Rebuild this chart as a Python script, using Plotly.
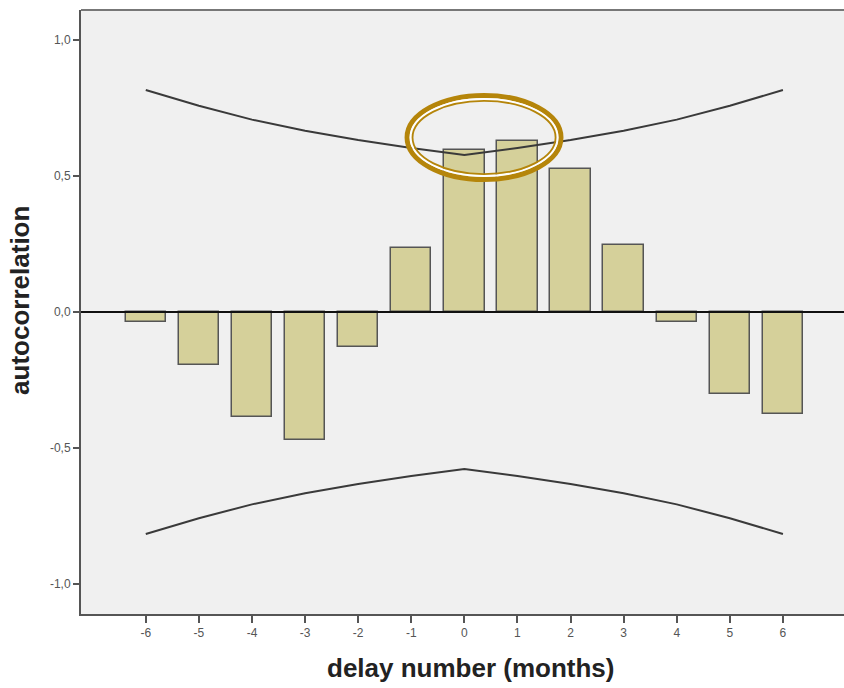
import plotly.graph_objects as go

lags = [-6, -5, -4, -3, -2, -1, 0, 1, 2, 3, 4, 5, 6]
acf = [-0.035, -0.195, -0.385, -0.47, -0.13, 0.235, 0.595, 0.63, 0.525, 0.246, -0.035, -0.30, -0.375]
upper = [0.816, 0.758, 0.707, 0.666, 0.632, 0.603, 0.577, 0.603, 0.632, 0.666, 0.707, 0.758, 0.816]
lower = [-v for v in upper]
ytick_vals = [1.0, 0.5, 0.0, -0.5, -1.0]
ytick_text = ["1,0", "0,5", "0,0", "-0,5", "-1,0"]

fig = go.Figure()
fig.add_trace(go.Bar(x=lags, y=acf, width=0.76,
                     marker=dict(color="#D5D09A", line=dict(color="#555555", width=1.5)),
                     showlegend=False))
fig.add_trace(go.Scatter(x=lags, y=upper, mode="lines", line=dict(color="#3a3a3a", width=2),
                         showlegend=False))
fig.add_trace(go.Scatter(x=lags, y=lower, mode="lines", line=dict(color="#3a3a3a", width=2),
                         showlegend=False))

shapes = [
    dict(type="line", xref="paper", yref="y", x0=0, x1=1, y0=0, y1=0, line=dict(color="#111111", width=2)),
    dict(type="line", xref="paper", yref="paper", x0=0, x1=1, y0=1, y1=1, line=dict(color="#777777", width=2)),
    # highlight ellipse (outer thick, white gap, inner thin)
    dict(type="circle", xref="x", yref="y", x0=-1.079, x1=1.82, y0=0.796, y1=0.487,
         line=dict(color="#B5850A", width=5)),
    dict(type="circle", xref="x", yref="y", x0=-1.013, x1=1.755, y0=0.783, y1=0.50,
         line=dict(color="#FFFFFF", width=2)),
    dict(type="circle", xref="x", yref="y", x0=-0.976, x1=1.718, y0=0.776, y1=0.507,
         line=dict(color="#B5850A", width=1.8)),
]

annotations = [
    dict(text="<b>delay number (months)</b>", xref="paper", yref="paper", x=0.511, y=-0.089,
         xanchor="center", yanchor="middle", showarrow=False, font=dict(size=26, color="#222222")),
    dict(text="<b>autocorrelation</b>", xref="paper", yref="paper", x=-0.080, y=0.52,
         xanchor="center", yanchor="middle", textangle=-90, showarrow=False,
         font=dict(size=26, color="#222222")),
]

fig.update_layout(
    width=844, height=688,
    margin=dict(l=81, r=0, t=10, b=74),
    paper_bgcolor="white", plot_bgcolor="#F0F0F0",
    bargap=0, shapes=shapes, annotations=annotations,
    font=dict(family="Liberation Sans, Arial, sans-serif", color="#444444"),
    xaxis=dict(range=[-7.22, 7.15], tickvals=lags, ticktext=[str(v) for v in lags],
               showgrid=False, zeroline=False, showline=True, linecolor="#555555", linewidth=2,
               ticks="outside", ticklen=7, tickcolor="#555555", tickwidth=1.5,
               tickfont=dict(size=12, color="#555555")),
    yaxis=dict(range=[-1.11, 1.11], tickvals=ytick_vals, ticktext=ytick_text,
               showgrid=False, zeroline=False, showline=True, linecolor="#555555", linewidth=2,
               ticks="outside", ticklen=6, tickcolor="#555555", tickwidth=1.5,
               tickfont=dict(size=12, color="#555555")),
)

fig.write_html("out.html")
